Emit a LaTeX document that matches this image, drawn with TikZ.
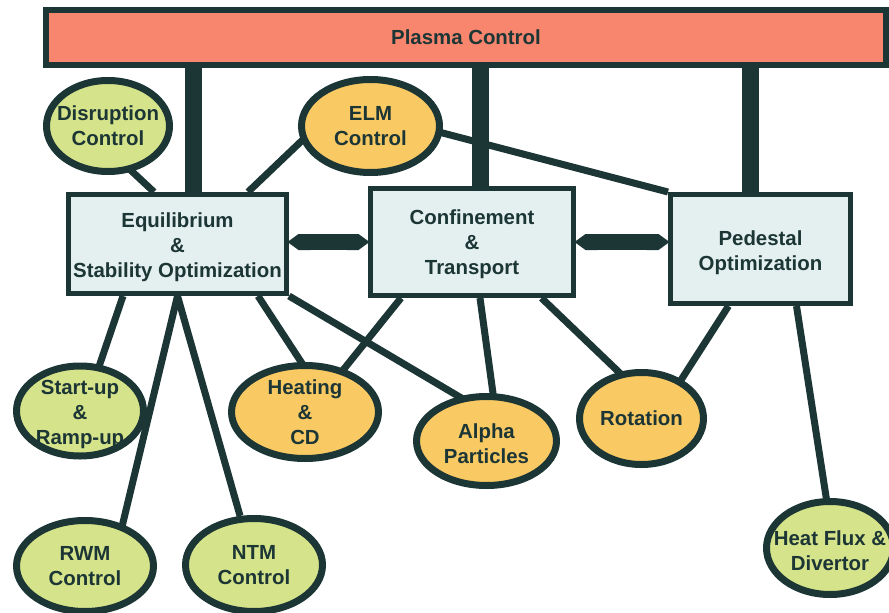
\documentclass[tikz,border=0pt]{standalone}
\usepackage{fontspec}
\setmainfont{Liberation Sans}
\usetikzlibrary{shapes,backgrounds,arrows.meta}

\definecolor{dk}{HTML}{1C3535}
\definecolor{salmon}{HTML}{F8866E}
\definecolor{leaf}{HTML}{D5E38A}
\definecolor{amber}{HTML}{F9C963}
\definecolor{boxc}{HTML}{E4F0F0}

\begin{document}
\begin{tikzpicture}[x=1pt,y=-1pt,font=\fontsize{20.4}{25}\selectfont\bfseries,text=dk,
  blk/.style={draw=dk,fill=boxc,line width=5pt,inner sep=0pt},
  grn/.style={ellipse,draw=dk,fill=leaf,line width=7pt,inner sep=0pt},
  org/.style={grn,fill=amber},
  txt/.style={align=center,inner sep=0pt},
  lnk/.style={draw=dk,line width=7pt},
  bar/.style={draw=dk,line width=17pt},
  dbl/.style={draw=dk,line width=16pt,{Triangle Cap[length=11pt]}-{Triangle Cap[length=11pt]},shorten <=-1.5pt,shorten >=-1.5pt}]
      \useasboundingbox (0,0) rectangle (889,613);

      \node[blk,fill=salmon,line width=6pt,minimum width=840pt,minimum height=55pt] (plasma) at (466,37.5) {Plasma Control};

      \node[blk,minimum width=218pt,minimum height=99pt,label={[txt,yshift=-3.5pt]center:Equilibrium\\\&\\Stability Optimization}] (eq) at (177.5,244) {};
      \node[blk,minimum width=203pt,minimum height=107pt,label={[txt,yshift=-2pt]center:Confinement\\\&\\Transport}] (conf) at (472,242) {};
      \node[blk,minimum width=180pt,minimum height=109pt,label={[txt,yshift=-4pt]center:Pedestal\\Optimization}] (ped) at (760.5,249) {};

      \node[grn,minimum width=123pt,minimum height=91pt,label={[txt]center:Disruption\\Control}] (dis) at (108,126) {};
      \node[org,minimum width=138pt,minimum height=93pt,label={[txt]center:ELM\\Control}] (elm) at (370.5,126) {};
      \node[grn,minimum width=127pt,minimum height=90pt,label={[txt,yshift=-3.5pt]center:Start-up\\\&\\Ramp-up}] (start) at (80,411) {};
      \node[org,minimum width=147pt,minimum height=93pt,label={[txt]center:Heating\\\&\\CD}] (heat) at (305,412) {};
      \node[org,minimum width=140pt,minimum height=89pt,label={[txt,yshift=-3pt]center:Alpha\\Particles}] (alpha) at (486.5,441) {};
      \node[org,minimum width=124pt,minimum height=92pt,label={[txt]center:Rotation}] (rot) at (641.5,418.5) {};
      \node[grn,minimum width=137pt,minimum height=91pt,label={[txt]center:RWM\\Control}] (rwm) at (85,566) {};
      \node[grn,minimum width=137pt,minimum height=93pt,label={[txt]center:NTM\\Control}] (ntm) at (254,565) {};
      \node[grn,minimum width=127pt,minimum height=93pt,label={[txt,yshift=-2.5pt]center:Heat Flux \&\\Divertor}] (flux) at (830,548) {};

      \begin{scope}[on background layer]
      % links to plasma control
      \draw[bar] ([xshift=16]eq.north) -- ([xshift=16]eq.north |- plasma.south);
      \draw[bar] ([xshift=8]conf.north) -- ([xshift=8]conf.north |- plasma.south);
      \draw[bar] ([xshift=-10.5]ped.north) -- ([xshift=-10.5]ped.north |- plasma.south);
      % thin links
      \draw[lnk] ([shift={(15,37)}]dis.center) -- ([xshift=-23.5]eq.north);
      \draw[lnk] ([shift={(-48,-5)}]elm.center) -- ([xshift=70.5]eq.north);
      \draw[lnk] ([shift={(34,-3)}]elm.center) -- (ped.north west);
      \draw[lnk] ([xshift=-54.5]eq.south) -- ([shift={(10,-18)}]start.center);
      \draw[lnk] (eq.south) -- ([shift={(29,-6)}]rwm.center);
      \draw[lnk] (eq.south) -- (ntm);
      \draw[lnk] ([xshift=80.5]eq.south) -- ([shift={(21,-12)}]heat.center);
      \draw[lnk] (eq.south east) -- ([shift={(-6.5,-32)}]alpha.center);
      \draw[lnk] ([xshift=-71]conf.south) -- ([shift={(14,-12)}]heat.center);
      \draw[lnk] ([xshift=8]conf.south) -- ([shift={(11.5,-11)}]alpha.center);
      \draw[lnk] ([xshift=69.5]conf.south) -- ([shift={(7,-18)}]rot.center);
      \draw[lnk] ([xshift=-32]ped.south) -- ([shift={(23.5,-13.5)}]rot.center);
      \draw[lnk] ([xshift=36]ped.south) -- ([xshift=4]flux.center);
      \end{scope}

      \draw[dbl] (eq.east |- conf.west) -- (conf.west);
      \draw[dbl] (conf.east) -- (ped.west |- conf.east);
\end{tikzpicture}
\end{document}
